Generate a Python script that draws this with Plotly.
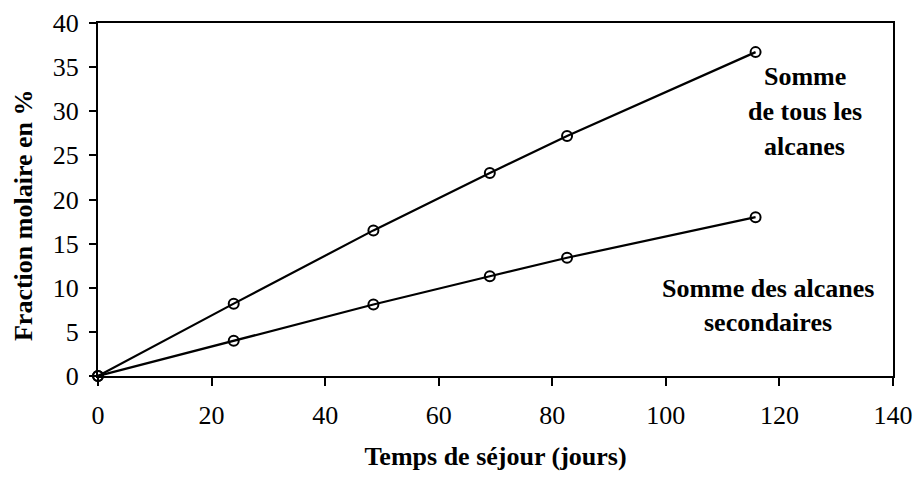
import plotly.graph_objects as go

# Data
temps = [0, 23.9, 48.5, 69.0, 82.6, 115.8]
somme_tous = [0, 8.2, 16.5, 23.0, 27.2, 36.7]
somme_secondaires = [0, 4.0, 8.1, 11.3, 13.4, 18.0]

x_ticks = [0, 20, 40, 60, 80, 100, 120, 140]
y_ticks = [0, 5, 10, 15, 20, 25, 30, 35, 40]

label_tous = ["Somme", "de tous les", "alcanes"]
label_sec = ["Somme des alcanes", "secondaires"]
y_title = "Fraction molaire en %"
x_title = "Temps de séjour (jours)"

FONT = "Liberation Serif, Times New Roman, serif"

fig = go.Figure()
marker = dict(symbol="circle-open", size=10, color="black", line=dict(width=2, color="black"))
for ys in (somme_tous, somme_secondaires):
    fig.add_trace(go.Scatter(x=temps, y=ys, mode="lines+markers",
                             line=dict(color="black", width=2.2),
                             marker=marker, showlegend=False, cliponaxis=False))

# Text labels (one annotation per line to mimic spacing)
for i, t in enumerate(label_tous):
    fig.add_annotation(x=124.5, y=33.9 - i * 3.95, text="<b>" + t + "</b>", showarrow=False,
                       font=dict(family=FONT, size=26, color="black"), xanchor="center", yanchor="middle")
for i, t in enumerate(label_sec):
    fig.add_annotation(x=118.0, y=9.97 - i * 3.9, text="<b>" + t + "</b>", showarrow=False,
                       font=dict(family=FONT, size=26, color="black"), xanchor="center", yanchor="middle")

# Y axis title (placed slightly below the axis centre, as in the reference)
fig.add_annotation(xref="paper", yref="paper", x=0, y=0.456, xshift=-75,
                   text="<b>" + y_title + "</b>", textangle=-90, showarrow=False,
                   font=dict(family=FONT, size=26, color="black"),
                   xanchor="center", yanchor="middle")

fig.update_layout(
    width=916, height=480,
    margin=dict(l=98, r=23, t=23, b=104, autoexpand=False),
    plot_bgcolor="white", paper_bgcolor="white",
    font=dict(family=FONT, color="black"),
    hovermode=False,
)
fig.update_xaxes(
    range=[0, 140], tickvals=x_ticks, ticktext=[str(v) for v in x_ticks],
    showgrid=False, zeroline=False, automargin=False,
    showline=True, linecolor="black", linewidth=2.2, mirror=True,
    ticks="outside", ticklen=8, tickwidth=1.5, tickcolor="black",
    tickfont=dict(family=FONT, size=26, color="black"),
    ticklabelstandoff=7,
    title=dict(text="<b>" + x_title + "</b>", font=dict(family=FONT, size=26, color="black"), standoff=18),
)
fig.update_yaxes(
    range=[0, 40], tickvals=y_ticks, ticktext=[str(v) for v in y_ticks],
    showgrid=False, zeroline=False, automargin=False,
    showline=True, linecolor="black", linewidth=2.2, mirror=True,
    ticks="outside", ticklen=7, tickwidth=1.5, tickcolor="black",
    tickfont=dict(family=FONT, size=26, color="black"),
    ticklabelstandoff=5,
)

fig.write_html(
    "out.html",
    config={"displayModeBar": False},
    post_script="document.body.style.margin='0';document.body.style.overflow='hidden';",
)
